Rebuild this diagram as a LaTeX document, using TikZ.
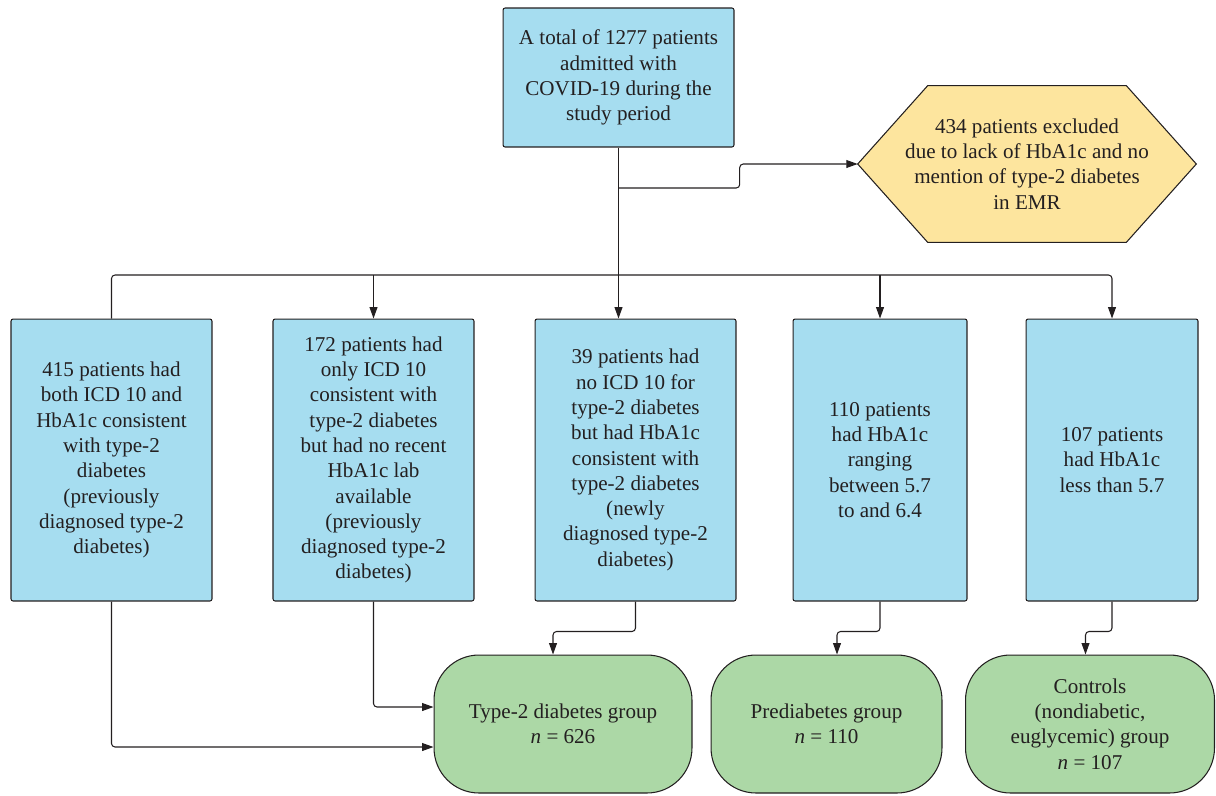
\documentclass[tikz,border=0pt]{standalone}
\usepackage{fontspec}
\setmainfont{Liberation Serif}
\usetikzlibrary{arrows.meta,positioning,backgrounds}
\definecolor{boxblue}{HTML}{A6DDF0}
\definecolor{hexyellow}{HTML}{FDE59E}
\definecolor{groupgreen}{HTML}{ACD8A6}
\definecolor{inkgray}{HTML}{231F20}

\begin{document}
\begin{tikzpicture}[x=0.02cm,y=-0.02cm,
	every node/.style={font=\fontsize{12}{14.4}\selectfont,align=center,text=inkgray},
	patbox/.style={draw=inkgray,line width=0.6pt,fill=boxblue,rounded corners=1.2pt,inner sep=2pt},
	rowbox/.style={patbox,minimum height=5.64cm},
	groupbox/.style={draw=inkgray,line width=0.6pt,fill=groupgreen,rounded corners=0.9cm,minimum height=2.76cm},
	conn/.style={draw=inkgray,line width=0.6pt,rounded corners=2pt,-{Triangle[length=6.5pt,width=4.5pt]}}]
			\useasboundingbox (0,0) rectangle (1216,795);
			\node[patbox,minimum width=4.62cm,minimum height=2.78cm] (total) at (618.5,77.5) {A total of 1277 patients\\admitted with\\COVID-19 during the\\study period};
			\node[inner sep=0pt,minimum width=6.76cm,minimum height=3.12cm] (excl) at (1027,164) {434 patients excluded\\due to lack of HbA1c and no\\mention of type-2 diabetes\\in EMR};
			\begin{scope}[on background layer]
				\draw[draw=inkgray,line width=0.6pt,fill=hexyellow] (excl.west) -- ([xshift=1.4cm]excl.north west) -- ([xshift=-1.4cm]excl.north east) -- (excl.east) -- ([xshift=-1.4cm]excl.south east) -- ([xshift=1.4cm]excl.south west) -- cycle;
			\end{scope}
			\node[rowbox,minimum width=4.02cm] (both) at (111.5,460) {415 patients had\\both ICD 10 and\\HbA1c consistent\\with type-2\\diabetes\\(previously\\diagnosed type-2\\diabetes)};
			\node[rowbox,minimum width=4.02cm] (icd) at (373.5,460) {172 patients had\\only ICD 10\\consistent with\\type-2 diabetes\\but had no recent\\HbA1c lab\\available\\(previously\\diagnosed type-2\\diabetes)};
			\node[rowbox,minimum width=4.02cm] (newly) at (635.5,460) {39 patients had\\no ICD 10 for\\type-2 diabetes\\but had HbA1c\\consistent with\\type-2 diabetes\\(newly\\diagnosed type-2\\diabetes)};
			\node[rowbox,minimum width=3.48cm] (pre) at (880,460) {110 patients\\had HbA1c\\ranging\\between 5.7\\to and 6.4};
			\node[rowbox,minimum width=3.44cm] (low) at (1112,460) {107 patients\\had HbA1c\\less than 5.7};
			\node[groupbox,minimum width=5.16cm] (t2d) at (563,724) {Type-2 diabetes group\\\textit{n} = 626};
			\node[groupbox,minimum width=4.62cm] (pdm) at (826.5,724) {Prediabetes group\\\textit{n} = 110};
			\node[groupbox,minimum width=4.98cm] (ctrl) at (1090,724) {Controls\\(nondiabetic,\\euglycemic) group\\\textit{n} = 107};
			\coordinate (split) at (618.5,188);
			\coordinate (bus) at (618.5,275);
			\draw[conn] (total) -- (total |- newly.north);
			\draw[conn] (split) -| ([xshift=-2.36cm]excl.west) -- (excl.west);
			\draw[conn] (both.north) |- (bus) -| (low.north);
			\path
			(icd.north |- bus) edge[conn] (icd.north)
			(pre.north |- bus) edge[conn] (pre.north);
			\draw[conn] (both.south) |- ([yshift=-0.46cm]t2d.west);
			\draw[conn] (icd.south) |- ([yshift=0.34cm]t2d.west);
			\draw[conn] (newly.south) -- ++(0,30) -| ([xshift=-0.2cm]t2d.north);
			\draw[conn] (pre.south) -- ++(0,30) -| ([xshift=0.21cm]pdm.north);
			\draw[conn] (low.south) -- ++(0,30) -| ([xshift=-0.09cm]ctrl.north);
		\end{tikzpicture}
\end{document}
